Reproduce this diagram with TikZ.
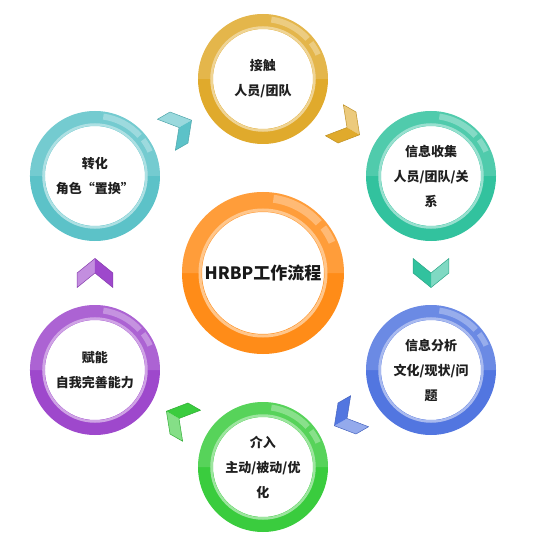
\documentclass[tikz,border=0pt]{standalone}
\usepackage{fontspec}
\newfontfamily\cjk{Noto Sans CJK SC}
\definecolor{cgold}{RGB}{224,170,44}
\definecolor{cmint}{RGB}{50,194,158}
\definecolor{cblue}{RGB}{82,118,224}
\definecolor{cgreen}{RGB}{58,204,62}
\definecolor{cpurple}{RGB}{158,72,204}
\definecolor{cteal}{RGB}{92,194,200}
\definecolor{corange}{RGB}{255,140,24}
\tikzset{
  ringtext/.style={font=\cjk\bfseries\fontsize{13}{25}\selectfont, align=center, text=black!88},
  hubtext/.style={font=\cjk\bfseries\fontsize{17}{20}\selectfont, text=black!90}
}

\begin{document}
\begin{tikzpicture}[x=1pt,y=1pt]
          \useasboundingbox (-263,-276) rectangle (271,273);

          % centre ring
          \fill[corange, even odd rule] (0,0) circle [radius=81] (0,0) circle [radius=61];
          \fill[white, opacity=0.15] (81,0) arc (0:180:81) -- (-61,0) arc (180:0:61) -- cycle;
          \draw[corange!50!white, line width=3pt] (0,0) circle [radius=63];
          \fill[white, opacity=0.3] (82:79) arc (82:42:79) -- (42:71) arc (42:82:71) -- cycle;
          \fill[white, opacity=0.3] (37:79) arc (37:24:79) -- (24:72) arc (24:37:72) -- cycle;

          \foreach \ang/\col in {90/cgold,30/cmint,-30/cblue,-90/cgreen,-150/cpurple,150/cteal}{
            \begin{scope}[shift={(\ang:194)}]
              \fill[\col, even odd rule] (0,0) circle [radius=65] (0,0) circle [radius=50];
              \fill[white, opacity=0.15] (65,0) arc (0:180:65) -- (-50,0) arc (180:0:50) -- cycle;
              \draw[\col!50!white, line width=2.5pt] (0,0) circle [radius=51.5];
              \fill[white, opacity=0.3] (82:63) arc (82:42:63) -- (42:57) arc (42:82:57) -- cycle;
              \fill[white, opacity=0.3] (37:63) arc (37:24:63) -- (24:57.5) arc (24:37:57.5) -- cycle;
            \end{scope}
          }

          \foreach \ang/\col in {60/cgold,0/cmint,-60/cblue,-120/cgreen,180/cpurple,120/cteal}{
            \begin{scope}[shift={(\ang:168)}, rotate={\ang-90}, scale=1.12]
              \fill[\col!62!white] (13,0) -- (0,16) -- (-13,16) -- (0,0) -- cycle;
              \fill[\col] (0,0) -- (-13,-16) -- (0,-16) -- (13,0) -- cycle;
              \draw[\col!85!black, line width=0.5pt, line join=round]
              (13,0) -- (0,16) -- (-13,16) -- (0,0) -- (-13,-16) -- (0,-16) -- cycle;
            \end{scope}
          }

          \node[hubtext] (hub) at (0,0) {HRBP工作流程};

          \node[ringtext] (contact) at (90:194) {接触\\人员/团队};
          \node[ringtext] (collect) at (30:194) {信息收集\\人员/团队/关\\系};
          \node[ringtext] (analyse) at (-30:194) {信息分析\\文化/现状/问\\题};
          \node[ringtext] (step in) at (-90:194) {介入\\主动/被动/优\\化};
          \node[ringtext] (enable) at (-150:194) {赋能\\自我完善能力};
          \node[ringtext] (convert) at (150:194) {转化\\角色“置换”};
        \end{tikzpicture}
\end{document}
